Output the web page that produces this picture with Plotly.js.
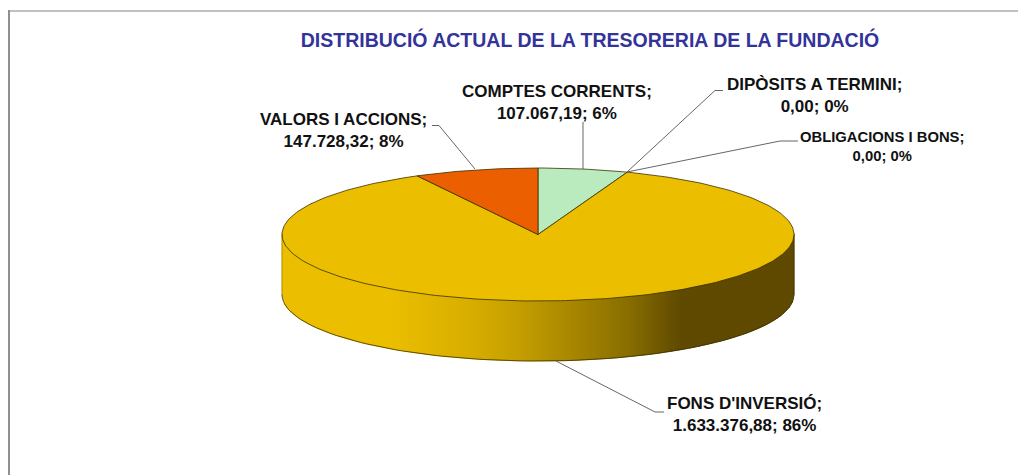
<!DOCTYPE html>
<html>
<head>
<meta charset="utf-8">
<script src="https://cdn.plot.ly/plotly-3.0.1.min.js"></script>
<style>html,body{margin:0;padding:0;background:#fff}#chart{width:1018px;height:475px}</style>
</head>
<body>
<div id="chart"></div>
<script>
// Data, in chart order (clockwise from 12 o'clock)
const categories = ["COMPTES CORRENTS", "DIPÒSITS A TERMINI", "OBLIGACIONS I BONS", "FONS D'INVERSIÓ", "VALORS I ACCIONS"];
const values = [107067.19, 0, 0, 1633376.88, 147728.32];
const valueLabels = ["107.067,19", "0,00", "0,00", "1.633.376,88", "147.728,32"];
const percentLabels = ["6%", "0%", "0%", "86%", "8%"];
const sliceColors = ["#B9EBBE", "#9999FF", "#993366", "#EBBE00", "#EB5F00"];
const titleText = "DISTRIBUCIÓ ACTUAL DE LA TRESORERIA DE LA FUNDACIÓ";

// Pie geometry on a pixel-scaled axis pair
const cx = 538, cy = 234.5, rx = 256, ry = 66.5, depth = 60;
const total = values.reduce((a, b) => a + b, 0);
const px = t => cx + rx * Math.sin(t);
const py = t => cy - ry * Math.cos(t);

const traces = [];
const base = {mode: "lines", hoverinfo: "skip", showlegend: false};

// Side wall: vertical strips shaded from left to right
const shadeStops = [[282,[235,190,0]],[390,[235,190,0]],[470,[216,174,0]],[520,[196,158,0]],[627,[138,111,0]],[681,[95,74,0]],[794,[95,74,0]]];
function shade(x) {
  for (let i = 1; i < shadeStops.length; i++) {
    if (x <= shadeStops[i][0]) {
      const [x0, c0] = shadeStops[i-1], [x1, c1] = shadeStops[i];
      const f = (x - x0) / (x1 - x0);
      return "rgb(" + c0.map((c, k) => Math.round(c + (c1[k] - c) * f)).join(",") + ")";
    }
  }
  return "rgb(95,74,0)";
}
const stripW = 3;
const yFront = x => cy + ry * Math.sqrt(Math.max(0, 1 - ((x - cx) / rx) ** 2));
for (let x = cx - rx; x < cx + rx; x += stripW) {
  const a = x, b = Math.min(x + stripW, cx + rx);
  const m = (a + b) / 2;
  traces.push({...base,
    x: [a, b, b, a, a],
    y: [yFront(a) - 1, yFront(b) - 1, yFront(b) + depth, yFront(a) + depth, yFront(a) - 1],
    fill: "toself", fillcolor: shade(m),
    line: {color: shade(m), width: 0.8}
  });
}
// Outline of the wall's lower edge
const lowX = [], lowY = [];
for (let d = 90; d <= 270; d += 2) {
  const t = d * Math.PI / 180;
  lowX.push(px(t)); lowY.push(py(t) + depth);
}
traces.push({...base, x: lowX, y: lowY, line: {color: "#3a3000", width: 0.8}});
// Side edges
traces.push({...base, x: [cx - rx, cx - rx], y: [cy, cy + depth], line: {color: "#8a7000", width: 0.6}});
traces.push({...base, x: [cx + rx, cx + rx], y: [cy, cy + depth], line: {color: "#3a3000", width: 0.8}});

// Top face: one polygon per slice, swept from the values
let running = 0;
values.forEach((v, i) => {
  const a0 = running / total * 2 * Math.PI;
  running += v;
  const a1 = running / total * 2 * Math.PI;
  if (v <= 0) return;
  const xs = [cx], ys = [cy];
  const n = Math.max(2, Math.ceil((a1 - a0) / 0.02));
  for (let k = 0; k <= n; k++) {
    const t = a0 + (a1 - a0) * k / n;
    xs.push(px(t)); ys.push(py(t));
  }
  xs.push(cx); ys.push(cy);
  traces.push({...base, x: xs, y: ys, fill: "toself", fillcolor: sliceColors[i],
    line: {color: "#3a3000", width: 0.8}, name: categories[i]});
});

// Leader lines
const leaders = [
  [[583, 583], [122, 169]],
  [[432, 439, 475], [125.5, 125.5, 169]],
  [[723, 715, 627], [90.5, 90.5, 172]],
  [[798, 780, 627], [141, 141, 172]],
  [[556, 655, 664], [361, 412, 412]]
];
leaders.forEach(l => traces.push({...base, x: l[0], y: l[1], line: {color: "#555555", width: 0.9}}));

// Labels
const labelAt = [[557, 102, 17], [814, 95.5, 17], [882, 146.5, 14.8], [744, 414.5, 17], [343, 130, 17]];
const annotations = categories.map((c, i) => ({
  xref: "x", yref: "y", x: labelAt[i][0], y: labelAt[i][1],
  text: c + ";<br>" + valueLabels[i] + "; " + percentLabels[i],
  showarrow: false, xanchor: "center", yanchor: "middle", align: "center",
  font: {family: "Liberation Sans, Arial, sans-serif", size: labelAt[i][2], color: "#111111", weight: 700}
}));

const layout = {
  width: 1018, height: 475,
  margin: {l: 0, r: 0, t: 0, b: 0},
  paper_bgcolor: "#ffffff", plot_bgcolor: "#ffffff",
  showlegend: false,
  title: {text: titleText, x: 590 / 1018, xanchor: "center", xref: "paper",
          y: 1 - 40.5 / 475, yanchor: "middle", yref: "container",
          font: {family: "Liberation Sans, Arial, sans-serif", size: 19.5, color: "#333399", weight: 700}},
  xaxis: {range: [0, 1018], visible: false, fixedrange: true},
  yaxis: {range: [475, 0], visible: false, fixedrange: true},
  annotations: annotations,
  shapes: [
    {type: "line", xref: "x", yref: "y", x0: 8, x1: 1018, y0: 11, y1: 11, line: {color: "#c0c0c0", width: 2}},
    {type: "line", xref: "x", yref: "y", x0: 9, x1: 9, y0: 10, y1: 475, line: {color: "#909090", width: 2}}
  ]
};
Plotly.newPlot("chart", traces, layout, {displayModeBar: false, staticPlot: true});
</script>
</body>
</html>
